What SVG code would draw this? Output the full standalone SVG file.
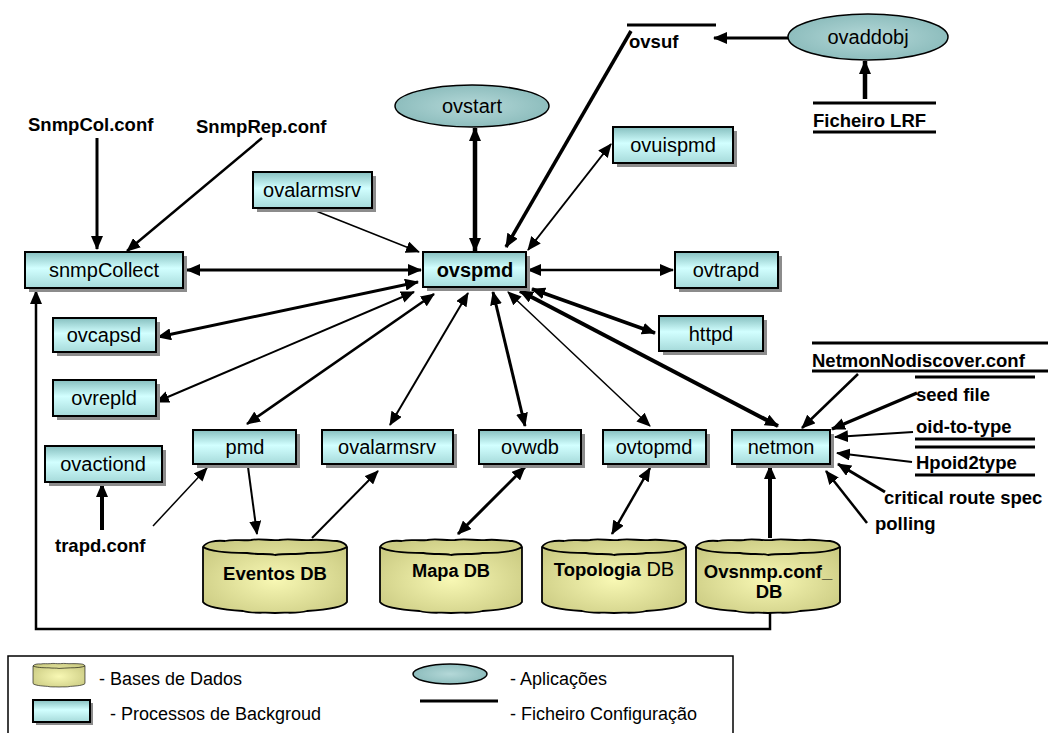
<svg xmlns="http://www.w3.org/2000/svg" width="1048" height="733" viewBox="0 0 1048 733">
  <defs>
    <style>
      .box { fill: url(#procFill); stroke: #000; stroke-width: 2; }
      .shadow { fill: #8c8c8c; }
      .app { fill: url(#appFill); stroke: #000; stroke-width: 1.5; }
      .db { fill: url(#dbFill); stroke: #000; stroke-width: 1.8; }
      .rim { fill: none; stroke: #000; stroke-width: 1.8; }
      .lbl { font-family: "Liberation Sans", Arial, sans-serif; font-size: 20px; fill: #000; text-anchor: middle; }
      .cfg { font-family: "Liberation Sans", Arial, sans-serif; font-size: 18.5px; font-weight: bold; fill: #000; }
      .dbt { font-family: "Liberation Sans", Arial, sans-serif; font-size: 18.5px; font-weight: bold; fill: #000; text-anchor: middle; }
      .leg { font-family: "Liberation Sans", Arial, sans-serif; font-size: 18px; fill: #000; }
      .fl { stroke: #000; stroke-width: 3; }
      .c { fill: none; stroke: #000; }
    </style>
    <linearGradient id="procFill" x1="0" y1="0" x2="0" y2="1">
      <stop offset="0" stop-color="#86bfbf"/>
      <stop offset="0.45" stop-color="#d2ffff"/>
      <stop offset="1" stop-color="#a6dada"/>
    </linearGradient>
    <radialGradient id="appFill" cx="0.5" cy="0.5" r="0.6">
      <stop offset="0" stop-color="#b4d8d8"/>
      <stop offset="1" stop-color="#86b8b8"/>
    </radialGradient>
    <radialGradient id="dbFill" cx="0.5" cy="0.55" r="0.6">
      <stop offset="0" stop-color="#f8f8b4"/>
      <stop offset="1" stop-color="#cccc84"/>
    </radialGradient>
    <marker id="ah" viewBox="0 0 14 12" refX="13" refY="6" markerWidth="14" markerHeight="12" markerUnits="userSpaceOnUse" orient="auto-start-reverse">
      <path d="M0,0 L14,6 L0,12 Z" fill="#000"/>
    </marker>
    <marker id="ahb" viewBox="0 0 16 14" refX="15" refY="7" markerWidth="16" markerHeight="14" markerUnits="userSpaceOnUse" orient="auto-start-reverse">
      <path d="M0,0 L16,7 L0,14 Z" fill="#000"/>
    </marker>
    <!-- database cylinder outline, 144 x 75 -->
    <path id="cyl" d="M0,9 C3,4 12,2 22,3 C30,1 38,3 48,2 C58,0 66,3 76,2 C88,0 96,3 108,2 C118,1 126,3 134,3 C140,4 143,6 144,9 L144,64 C140,70 120,72 104,73 C94,76 84,74 72,75 C60,74 50,76 40,73 C24,72 4,70 0,64 Z"/>
    <path id="cylRim" d="M0,9 C8,14 26,15 44,15 C56,17 64,15 72,17 C84,15 92,17 104,15 C120,15 136,14 144,9"/>
  </defs>

  <!-- connectors -->
  <g id="connectors">
    <line class="c" x1="187" y1="270" x2="421" y2="270" stroke-width="3" marker-start="url(#ah)" marker-end="url(#ah)"/>
    <line class="c" x1="528" y1="270" x2="673" y2="270" stroke-width="2.5" marker-start="url(#ah)" marker-end="url(#ah)"/>
    <line class="c" x1="475" y1="128" x2="475" y2="251" stroke-width="4.5" marker-start="url(#ah)" marker-end="url(#ah)"/>
    <line class="c" x1="316" y1="211" x2="419" y2="252" stroke-width="1.5" marker-end="url(#ah)"/>
    <line class="c" x1="631" y1="31" x2="506" y2="247" stroke-width="3.5" marker-end="url(#ah)"/>
    <line class="c" x1="611" y1="144" x2="528" y2="250" stroke-width="2" marker-start="url(#ah)" marker-end="url(#ah)"/>
    <line class="c" x1="97" y1="138" x2="97" y2="249" stroke-width="3" marker-end="url(#ah)"/>
    <line class="c" x1="262" y1="138" x2="127" y2="251" stroke-width="2.5" marker-end="url(#ah)"/>
    <line class="c" x1="158" y1="337" x2="418" y2="282" stroke-width="3" marker-start="url(#ah)" marker-end="url(#ah)"/>
    <line class="c" x1="156" y1="402" x2="414" y2="292" stroke-width="2" marker-start="url(#ah)" marker-end="url(#ah)"/>
    <line class="c" x1="247" y1="424" x2="434" y2="294" stroke-width="2.5" marker-start="url(#ah)" marker-end="url(#ah)"/>
    <line class="c" x1="390" y1="425" x2="468" y2="293" stroke-width="2" marker-start="url(#ah)" marker-end="url(#ah)"/>
    <line class="c" x1="525" y1="426" x2="493" y2="292" stroke-width="3" marker-start="url(#ah)" marker-end="url(#ah)"/>
    <line class="c" x1="650" y1="426" x2="508" y2="292" stroke-width="1.5" marker-start="url(#ah)" marker-end="url(#ah)"/>
    <line class="c" x1="778" y1="426" x2="520" y2="291" stroke-width="4" marker-start="url(#ah)" marker-end="url(#ah)"/>
    <line class="c" x1="655" y1="333" x2="532" y2="289" stroke-width="3.5" marker-start="url(#ah)" marker-end="url(#ah)"/>
    <line class="c" x1="248" y1="467" x2="257" y2="534" stroke-width="2" marker-end="url(#ah)"/>
    <line class="c" x1="312" y1="538" x2="378" y2="471" stroke-width="2" marker-end="url(#ah)"/>
    <line class="c" x1="153" y1="526" x2="207" y2="468" stroke-width="1.5" marker-end="url(#ah)"/>
    <line class="c" x1="102" y1="530" x2="102" y2="484" stroke-width="4" marker-end="url(#ah)"/>
    <line class="c" x1="525" y1="467" x2="458" y2="534" stroke-width="3" marker-start="url(#ah)" marker-end="url(#ah)"/>
    <line class="c" x1="650" y1="468" x2="612" y2="534" stroke-width="2.5" marker-start="url(#ah)" marker-end="url(#ah)"/>
    <line class="c" x1="858" y1="374" x2="802" y2="428" stroke-width="2.5" marker-end="url(#ah)"/>
    <line class="c" x1="917" y1="393" x2="832" y2="429" stroke-width="3.5" marker-end="url(#ah)"/>
    <line class="c" x1="913" y1="432" x2="835" y2="437" stroke-width="2" marker-end="url(#ah)"/>
    <line class="c" x1="912" y1="462" x2="837" y2="453" stroke-width="2" marker-end="url(#ah)"/>
    <line class="c" x1="885" y1="492" x2="838" y2="464" stroke-width="3" marker-end="url(#ah)"/>
    <line class="c" x1="867" y1="523" x2="826" y2="471" stroke-width="2.5" marker-end="url(#ah)"/>
    <line class="c" x1="788" y1="38" x2="714" y2="38" stroke-width="3" marker-end="url(#ah)"/>
    <line class="c" x1="865" y1="99" x2="865" y2="61" stroke-width="4.5" marker-end="url(#ah)"/>
    <line class="c" x1="770" y1="538" x2="770" y2="466" stroke-width="4" marker-end="url(#ah)"/>
    <polyline class="c" points="770,613 770,629 36,629 36,291" stroke-width="2.5" marker-end="url(#ah)"/>
  </g>

  <!-- applications -->
  <g id="ovstart">
    <ellipse class="app" cx="472" cy="106" rx="77" ry="21"/>
    <text class="lbl" x="472" y="113">ovstart</text>
  </g>
  <g id="ovaddobj">
    <ellipse class="app" cx="868" cy="37" rx="80" ry="23"/>
    <text class="lbl" x="868" y="44">ovaddobj</text>
  </g>

  <!-- configuration files -->
  <g id="ovsuf">
    <line class="fl" x1="627" y1="25" x2="716" y2="25"/>
    <text class="cfg" x="629" y="48">ovsuf</text>
  </g>
  <g id="ficheiro-lrf">
    <line class="fl" x1="813" y1="103" x2="936" y2="103"/>
    <text class="cfg" x="813" y="127">Ficheiro LRF</text>
    <line class="fl" x1="813" y1="132" x2="936" y2="132"/>
  </g>
  <g id="snmpcol-conf">
    <text class="cfg" x="28" y="131">SnmpCol.conf</text>
  </g>
  <g id="snmprep-conf">
    <text class="cfg" x="196" y="133">SnmpRep.conf</text>
  </g>
  <g id="trapd-conf">
    <text class="cfg" x="55" y="552">trapd.conf</text>
  </g>
  <g id="netmonnodiscover-conf">
    <line class="fl" x1="812" y1="343" x2="1048" y2="343"/>
    <text class="cfg" x="812" y="367">NetmonNodiscover.conf</text>
    <line class="fl" x1="812" y1="371" x2="1048" y2="371"/>
  </g>
  <g id="seed-file">
    <line class="fl" x1="915" y1="377" x2="1035" y2="377"/>
    <text class="cfg" x="916" y="401">seed file</text>
  </g>
  <g id="oid-to-type">
    <text class="cfg" x="916" y="433">oid-to-type</text>
    <line class="fl" x1="915" y1="439" x2="1035" y2="439"/>
  </g>
  <g id="hpoid2type">
    <line class="fl" x1="915" y1="447" x2="1035" y2="447"/>
    <text class="cfg" x="916" y="469">Hpoid2type</text>
    <line class="fl" x1="915" y1="475" x2="1035" y2="475"/>
  </g>
  <g id="critical-route-spec">
    <text class="cfg" x="884" y="504">critical route spec</text>
  </g>
  <g id="polling">
    <text class="cfg" x="875" y="530">polling</text>
  </g>

  <!-- background processes -->
  <g id="snmpCollect">
    <rect class="shadow" x="29" y="256" width="158" height="36"/>
    <rect class="box" x="25" y="252" width="158" height="36"/>
    <text class="lbl" x="104" y="277">snmpCollect</text>
  </g>
  <g id="ovalarmsrv-top">
    <rect class="shadow" x="257" y="176" width="119" height="36"/>
    <rect class="box" x="253" y="172" width="119" height="36"/>
    <text class="lbl" x="312" y="197">ovalarmsrv</text>
  </g>
  <g id="ovspmd">
    <rect class="shadow" x="427" y="256" width="103" height="35"/>
    <rect class="box" x="423" y="252" width="103" height="35"/>
    <text class="lbl" x="475" y="277" font-weight="bold" font-size="22">ovspmd</text>
  </g>
  <g id="ovuispmd">
    <rect class="shadow" x="617" y="131" width="120" height="36"/>
    <rect class="box" x="613" y="127" width="120" height="36"/>
    <text class="lbl" x="673" y="152">ovuispmd</text>
  </g>
  <g id="ovtrapd">
    <rect class="shadow" x="679" y="256" width="103" height="36"/>
    <rect class="box" x="675" y="252" width="103" height="36"/>
    <text class="lbl" x="726" y="277">ovtrapd</text>
  </g>
  <g id="httpd">
    <rect class="shadow" x="663" y="320" width="104" height="35"/>
    <rect class="box" x="659" y="316" width="104" height="35"/>
    <text class="lbl" x="711" y="341">httpd</text>
  </g>
  <g id="ovcapsd">
    <rect class="shadow" x="57" y="322" width="103" height="34"/>
    <rect class="box" x="53" y="318" width="103" height="34"/>
    <text class="lbl" x="104" y="342">ovcapsd</text>
  </g>
  <g id="ovrepld">
    <rect class="shadow" x="57" y="384" width="103" height="36"/>
    <rect class="box" x="53" y="380" width="103" height="36"/>
    <text class="lbl" x="104" y="405">ovrepld</text>
  </g>
  <g id="ovactiond">
    <rect class="shadow" x="49" y="450" width="117" height="36"/>
    <rect class="box" x="45" y="446" width="117" height="36"/>
    <text class="lbl" x="103" y="471">ovactiond</text>
  </g>
  <g id="pmd">
    <rect class="shadow" x="197" y="434" width="103" height="34"/>
    <rect class="box" x="193" y="430" width="103" height="34"/>
    <text class="lbl" x="245" y="454">pmd</text>
  </g>
  <g id="ovalarmsrv-bottom">
    <rect class="shadow" x="326" y="434" width="131" height="34"/>
    <rect class="box" x="322" y="430" width="131" height="34"/>
    <text class="lbl" x="387" y="454">ovalarmsrv</text>
  </g>
  <g id="ovwdb">
    <rect class="shadow" x="483" y="434" width="102" height="34"/>
    <rect class="box" x="479" y="430" width="102" height="34"/>
    <text class="lbl" x="530" y="454">ovwdb</text>
  </g>
  <g id="ovtopmd">
    <rect class="shadow" x="607" y="434" width="103" height="34"/>
    <rect class="box" x="603" y="430" width="103" height="34"/>
    <text class="lbl" x="654" y="454">ovtopmd</text>
  </g>
  <g id="netmon">
    <rect class="shadow" x="736" y="434" width="98" height="34"/>
    <rect class="box" x="732" y="430" width="98" height="34"/>
    <text class="lbl" x="781" y="454">netmon</text>
  </g>

  <!-- databases -->
  <g id="eventos-db" transform="translate(203,538)">
    <use href="#cyl" class="db"/>
    <use href="#cylRim" class="rim"/>
    <text class="dbt" x="72" y="42">Eventos DB</text>
  </g>
  <g id="mapa-db" transform="translate(380,538) scale(0.986,1)">
    <use href="#cyl" class="db"/>
    <use href="#cylRim" class="rim"/>
    <text class="dbt" x="72" y="39">Mapa DB</text>
  </g>
  <g id="topologia-db" transform="translate(542,538)">
    <use href="#cyl" class="db"/>
    <use href="#cylRim" class="rim"/>
    <text class="dbt" x="72" y="38"><tspan>Topologia</tspan><tspan font-weight="normal" font-size="20"> DB</tspan></text>
  </g>
  <g id="ovsnmp-db" transform="translate(696,538)">
    <use href="#cyl" class="db"/>
    <use href="#cylRim" class="rim"/>
    <text class="dbt" x="72" y="40">Ovsnmp.conf_</text>
    <text class="dbt" x="73" y="60">DB</text>
  </g>

  <!-- legend -->
  <g id="legend">
    <rect x="8" y="656" width="725" height="90" fill="#fff" stroke="#000" stroke-width="1.5"/>
    <g transform="translate(33,663) scale(0.361,0.32)">
      <use href="#cyl" class="db" stroke-width="5"/>
      <use href="#cylRim" class="rim" stroke-width="5"/>
    </g>
    <text class="leg" x="99" y="685">- Bases de Dados</text>
    <rect class="shadow" x="36" y="703" width="57" height="22"/>
    <rect class="box" x="33" y="700" width="57" height="22"/>
    <text class="leg" x="110" y="720">- Processos de Backgroud</text>
    <ellipse class="app" cx="450" cy="674" rx="37" ry="10"/>
    <text class="leg" x="510" y="685">- Aplicações</text>
    <line class="fl" x1="420" y1="701" x2="498" y2="701"/>
    <text class="leg" x="510" y="720">- Ficheiro Configuração</text>
  </g>
</svg>
